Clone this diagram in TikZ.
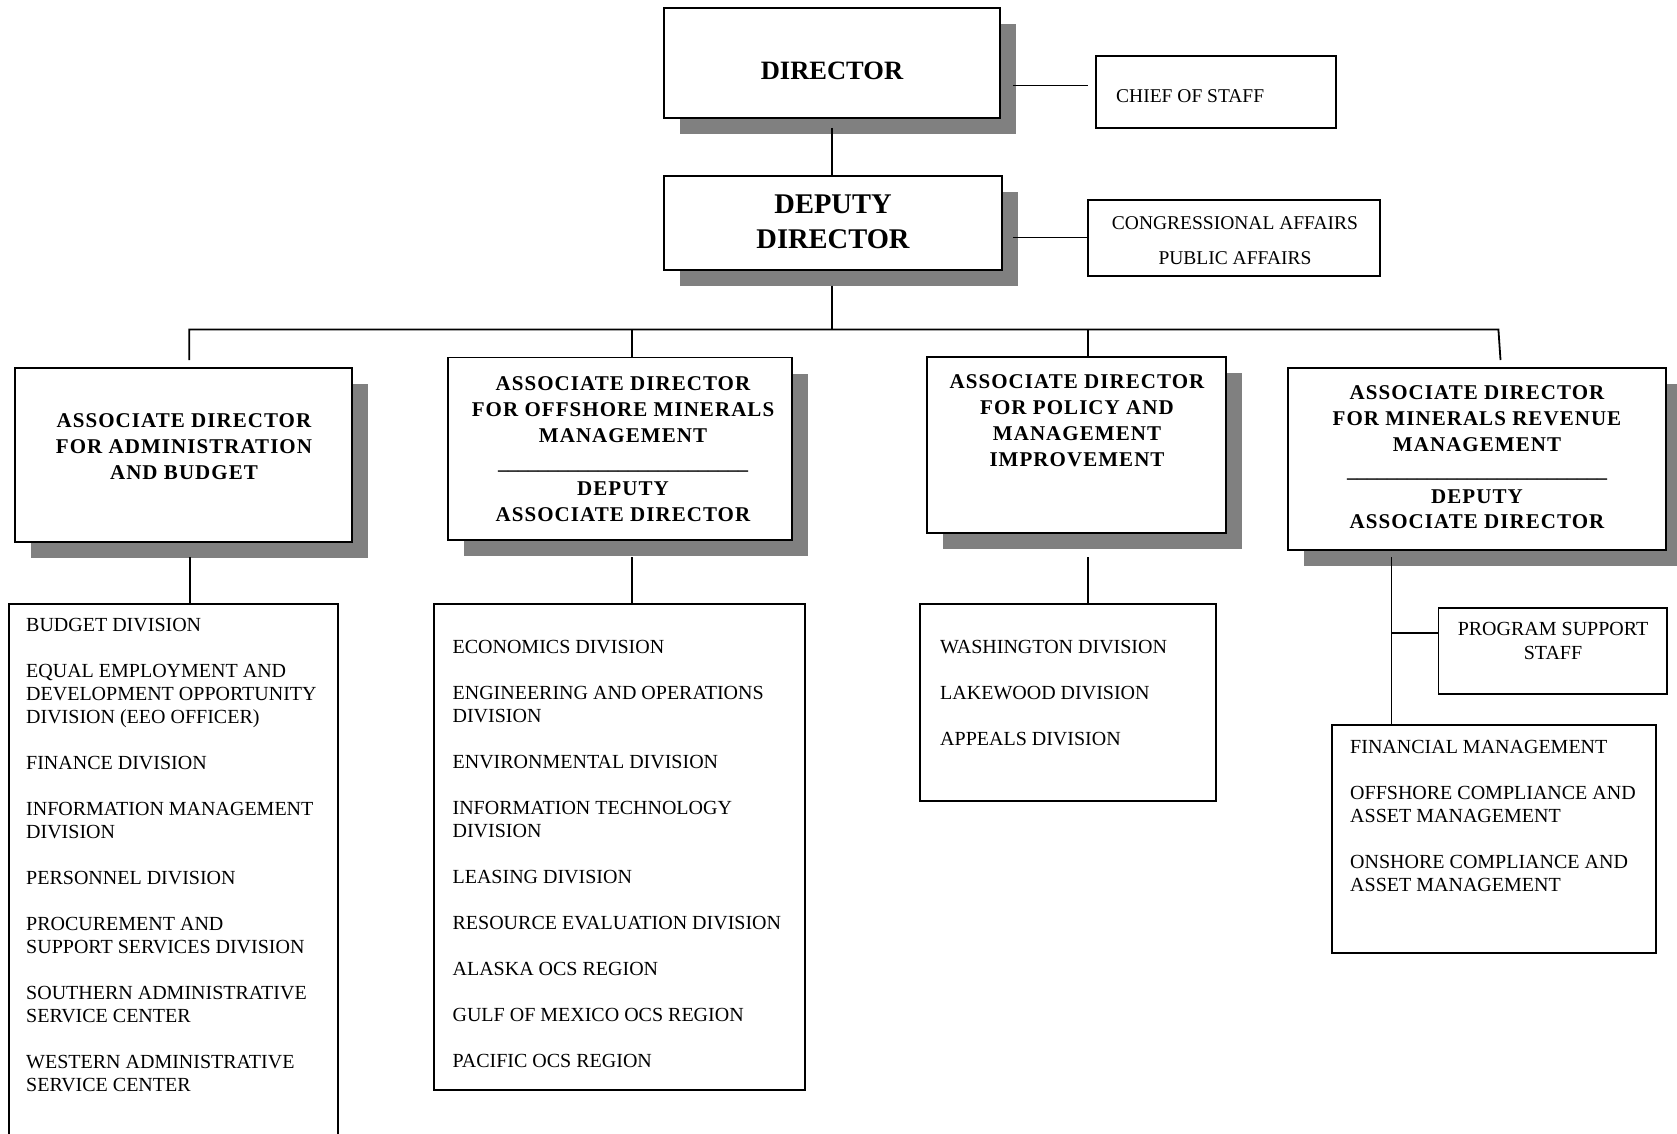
\documentclass[tikz,border=0pt]{standalone}
\usepackage{fontspec}
\setmainfont{Liberation Serif}
\newfontfamily\headfont[LetterSpace=5]{Liberation Serif}
\usetikzlibrary{shadows}
\definecolor{shadowgray}{RGB}{128,128,128}

\begin{document}
\begin{tikzpicture}[x=1pt,y=-1pt,
  frame/.style={draw, line width=1.8pt, fill=white, inner sep=0pt},
  shadowed/.style={frame, drop shadow={shadow xshift=16pt, shadow yshift=-16pt, fill=shadowgray, opacity=1}},
  conn/.style={line width=1.8pt},
  headtext/.style={align=center, inner sep=0pt, font=\headfont\bfseries\fontsize{21}{#1}\selectfont},
  headtext/.default=26,
  plaintext/.style={inner sep=0pt, font=\fontsize{20}{23}\selectfont},
  toptext/.style={inner sep=0pt, font=\fontsize{19.5}{35}\selectfont},
]
\useasboundingbox (0,0) rectangle (1677,1134);
\clip (0,0) rectangle (1677,1134);

% ---- top level ----
\node[shadowed, minimum width=336pt, minimum height=110pt] (dir) at (832,63) {};
\node[inner sep=0pt, font=\bfseries\fontsize{26.5}{30}\selectfont] (dir-t) at (832,71) {DIRECTOR};

\node[frame, minimum width=240pt, minimum height=72pt] (cos) at (1216,92) {};
\node[toptext, anchor=west] (cos-t) at (1116,95.8) {CHIEF OF STAFF};

\node[shadowed, minimum width=338pt, minimum height=94pt] (dep) at (833,223) {};
\node[align=center, inner sep=0pt, font=\bfseries\fontsize{28.5}{35}\selectfont] (dep-t) at (833,222) {DEPUTY\\DIRECTOR};

\node[frame, minimum width=292pt, minimum height=76pt] (pa) at (1234,238) {};
\node[toptext, align=center] (pa-t) at (1235,240.5) {CONGRESSIONAL AFFAIRS\\PUBLIC AFFAIRS};

% ---- associate directors ----
\node[shadowed, minimum width=337pt, minimum height=174pt] (adm) at (183.5,455) {};
\node[headtext] (adm-t) at (184,447) {ASSOCIATE DIRECTOR\\FOR ADMINISTRATION\\AND BUDGET};

\node[shadowed, minimum width=344pt, minimum height=182.5pt] (off) at (620,448.75) {};
\node[headtext=26.3] (off-t) at (623,449)
  {ASSOCIATE DIRECTOR\\FOR OFFSHORE MINERALS\\MANAGEMENT\\{\rmfamily\fontsize{20}{26}\selectfont\_\_\_\_\_\_\_\_\_\_\_\_\_\_\_\_\_\_\_\_\_\_\_\_\_}\\DEPUTY\\ASSOCIATE DIRECTOR};

\node[shadowed, minimum width=299pt, minimum height=176pt] (pol) at (1076.5,445) {};
\node[headtext] (pol-t) at (1077,421) {ASSOCIATE DIRECTOR\\FOR POLICY AND\\MANAGEMENT\\IMPROVEMENT};

\node[shadowed, minimum width=378pt, minimum height=182pt] (rev) at (1477,459) {};
\node[headtext=25.9] (rev-t) at (1477,457.3)
  {ASSOCIATE DIRECTOR\\FOR MINERALS REVENUE\\MANAGEMENT\\{\rmfamily\fontsize{20}{26}\selectfont\_\_\_\_\_\_\_\_\_\_\_\_\_\_\_\_\_\_\_\_\_\_\_\_\_\_}\\DEPUTY\\ASSOCIATE DIRECTOR};

% ---- division lists ----
\node[frame, minimum width=329.4pt, minimum height=556pt] (lst1) at (173.3,882) {};
\node[plaintext, align=left, anchor=north west] (lst1-t) at (26,618.1)
  {BUDGET DIVISION\\[23pt]EQUAL EMPLOYMENT AND\\DEVELOPMENT OPPORTUNITY\\DIVISION (EEO OFFICER)\\[23pt]FINANCE DIVISION\\[23pt]INFORMATION MANAGEMENT\\DIVISION\\[23pt]PERSONNEL DIVISION\\[23pt]PROCUREMENT AND\\SUPPORT SERVICES DIVISION\\[23pt]SOUTHERN ADMINISTRATIVE\\SERVICE CENTER\\[23pt]WESTERN ADMINISTRATIVE\\SERVICE CENTER};

\node[frame, minimum width=371pt, minimum height=486pt] (lst2) at (619.5,847) {};
\node[plaintext, align=left, anchor=north west] (lst2-t) at (452.4,640.1)
  {ECONOMICS DIVISION\\[23pt]ENGINEERING AND OPERATIONS\\DIVISION\\[23pt]ENVIRONMENTAL DIVISION\\[23pt]INFORMATION TECHNOLOGY\\DIVISION\\[23pt]LEASING DIVISION\\[23pt]RESOURCE EVALUATION DIVISION\\[23pt]ALASKA OCS REGION\\[23pt]GULF OF MEXICO OCS REGION\\[23pt]PACIFIC OCS REGION};

\node[frame, minimum width=296pt, minimum height=197pt] (lst3) at (1068,702.5) {};
\node[plaintext, align=left, anchor=north west] (lst3-t) at (940,640.1)
  {WASHINGTON DIVISION\\[23pt]LAKEWOOD DIVISION\\[23pt]APPEALS DIVISION};

\node[frame, minimum width=228.5pt, minimum height=86pt] (pss) at (1552.75,651) {};
\node[plaintext, align=center, font=\fontsize{20}{24}\selectfont] (pss-t) at (1553,641.3) {PROGRAM SUPPORT\\STAFF};

\node[frame, minimum width=324pt, minimum height=228pt] (lst4) at (1494,839) {};
\node[plaintext, align=left, anchor=north west] (lst4-t) at (1350,740.4)
  {FINANCIAL MANAGEMENT\\[23pt]OFFSHORE COMPLIANCE AND\\ASSET MANAGEMENT\\[23pt]ONSHORE COMPLIANCE AND\\ASSET MANAGEMENT};

% ---- connectors ----
\coordinate (dir-s) at (832,128);
\coordinate (dir-e) at (1013,85.6);
\coordinate (cos-w) at (1088,85.6);
\coordinate (dep-e) at (1013,237.4);
\coordinate (dep-s) at (832,285.6);
\coordinate (bus-l) at (189.3,329.4);
\coordinate (bus-r) at (1498.4,329.4);
\coordinate (adm-in) at (189.3,360);
\coordinate (rev-in) at (1500.5,360);
\coordinate (t-off) at (632,329.4);
\coordinate (t-pol) at (1087.7,329.4);
\coordinate (s-adm) at (190,557);
\coordinate (s-off) at (632,557);
\coordinate (s-pol) at (1087.7,557);
\coordinate (s-rev) at (1391.4,557);
\coordinate (b-rev) at (1391.4,633.3);

\draw[conn] (dir-s) -- (dir-s |- dep.north);
\draw[conn] (dir-e) -- (cos-w);
\draw[conn] (dep-e) -- (dep-e -| pa.west);
\draw[conn] (dep-s) -- (dep-s |- bus-l);
\draw[conn] (adm-in) -- (bus-l) -- (bus-r) -- (rev-in);
\draw[conn] (t-off) -- (t-off |- off.north);
\draw[conn] (t-pol) -- (t-pol |- pol.north);
\draw[conn] (s-adm) -- (s-adm |- lst1.north);
\draw[conn] (s-off) -- (s-off |- lst2.north);
\draw[conn] (s-pol) -- (s-pol |- lst3.north);
\draw[conn] (s-rev) -- (s-rev |- lst4.north);
\draw[conn] (b-rev) -- (b-rev -| pss.west);
\end{tikzpicture}
\end{document}
